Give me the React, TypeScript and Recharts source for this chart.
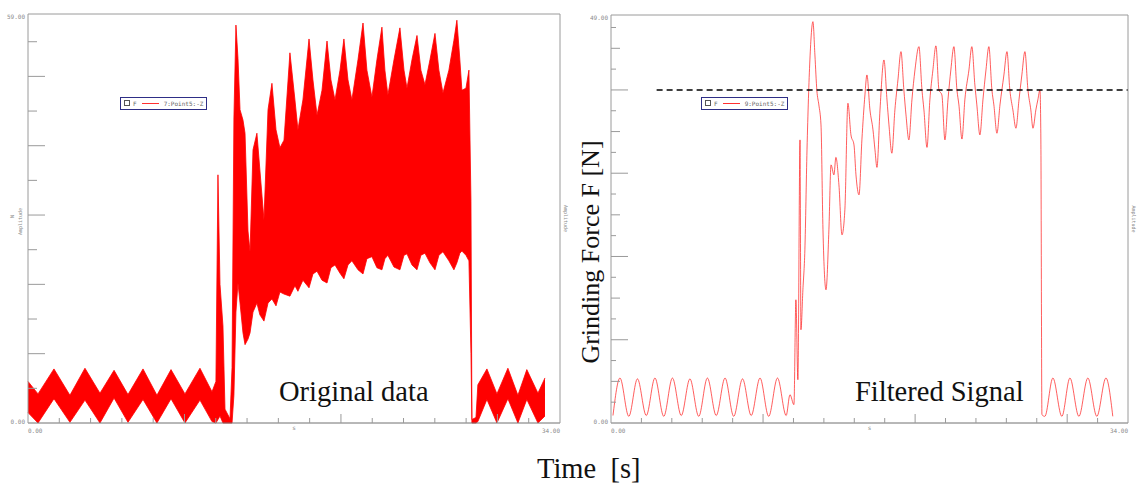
import React from "react";
import { ComposedChart, Area, Line, XAxis, YAxis, ReferenceLine, Legend } from "recharts";

const rawTime = [
  0, 0.64, 1.66, 2.68, 3.64, 4.6, 5.5, 6.39, 7.35, 8.24, 9.14, 10.03, 10.99, 11.76,
  12.01, 12.14, 12.27, 12.46, 12.59, 12.91, 13.04, 13.16, 13.29, 13.42, 13.55, 13.74, 13.87, 14.06, 14.19, 14.38,
  14.63, 14.82, 15.08, 15.34, 15.59, 15.85, 16.1, 16.36, 16.74, 17.06, 17.25, 17.57, 17.96, 18.21, 18.47, 18.79,
  19.11, 19.36, 19.62, 19.94, 20.19, 20.45, 20.7, 21.09, 21.41, 21.66, 21.98, 22.3, 22.62, 22.81, 23.0, 23.39,
  23.77, 24.03, 24.22, 24.54, 24.86, 25.11, 25.37, 25.69, 26.01, 26.26, 26.52, 26.9, 27.22, 27.41, 27.6, 27.73,
  27.99, 28.18, 28.31, 28.37, 28.63,
  28.75, 29.33, 29.97, 30.67, 31.31, 31.88, 32.59, 33.04,
];
const rawHigh = [
  6.0, 4.2, 7.8, 4.0, 7.9, 4.3, 7.6, 4.1, 7.8, 4.0, 7.7, 4.2, 7.9, 4.5,
  6.0, 35.8, 20.0, 14.0, 2.0, 0.6, 8.0, 44.0, 57.4, 52.6, 45.2, 43.7, 41.8, 27.7, 24.7, 39.4,
  41.8, 36.5, 29.3, 45.2, 49.0, 42.3, 39.7, 40.8, 53.4, 46.6, 42.3, 46.6, 55.4, 49.5, 44.4, 48.0,
  55.1, 49.5, 46.6, 50.9, 55.4, 49.5, 46.6, 52.4, 57.7, 50.9, 47.0, 52.4, 57.1, 50.9, 47.3, 52.4,
  57.0, 50.9, 48.3, 52.4, 55.9, 50.9, 48.8, 52.4, 56.2, 50.9, 47.6, 50.9, 55.2, 58.1, 52.4, 48.0,
  48.3, 50.9, 32.0, 0.5, 0.8,
  5.5, 7.8, 4.2, 7.9, 4.0, 7.7, 4.3, 6.5,
];
const rawLow = [
  1.5, 0, 3.5, 0.1, 3.3, 0, 3.6, 0.1, 3.4, 0, 3.5, 0, 3.3, 0.2,
  0, 0.5, 1, 0, 0, 0, 0, 4, 16, 20.2, 17.3, 13.0, 11.3, 12.1, 13.0, 16.0,
  17.3, 15.6, 14.7, 17.3, 17.9, 16.9, 18.9, 18.6, 18.3, 19.8, 19.0, 20.6, 19.5, 21.5, 21.9, 20.6,
  20.2, 22.4, 22.8, 21.6, 20.8, 22.8, 23.4, 22.1, 21.5, 23.7, 24.0, 22.4, 22.1, 23.7, 24.2, 22.5,
  22.1, 24.2, 24.4, 22.8, 22.1, 24.2, 24.5, 23.1, 22.1, 24.2, 24.7, 23.4, 22.1, 23.1, 24.5, 24.8,
  24.2, 23.4, 10, 0, 0,
  0.2, 3.4, 0, 3.5, 0, 3.4, 0, 1.0,
];

// right panel: filtered force
const filtTime = [
  0.13, 0.59, 1.17, 1.74, 2.32, 2.89, 3.47, 4.04, 4.62, 5.19, 5.77, 6.34, 6.92, 7.5, 8.07, 8.65, 9.22, 9.8, 10.37, 10.95, 11.52,
  11.77, 12.03, 12.16, 12.29, 12.43, 12.49, 12.62, 12.75, 12.89, 13.08, 13.28, 13.41, 13.54, 13.67, 13.81, 13.94,
  14.14, 14.33, 14.47, 14.66, 14.79, 14.99, 15.19, 15.38, 15.58, 15.78, 15.98, 16.11, 16.31, 16.5, 16.7, 16.83,
  17.03, 17.23, 17.36, 17.49, 17.69, 17.95, 18.15, 18.28, 18.47, 18.67, 18.87, 19.07, 19.26, 19.4, 19.59, 19.79,
  19.99, 20.25, 20.45, 20.58, 20.78, 20.97, 21.17, 21.37, 21.57, 21.76, 21.96, 22.16, 22.35, 22.55, 22.75, 22.88,
  23.08, 23.27, 23.54, 23.73, 23.93, 24.06, 24.26, 24.46, 24.66, 24.85, 25.05, 25.18, 25.38, 25.58, 25.84, 26.04,
  26.23, 26.43, 26.63, 26.83, 27.02, 27.22, 27.42, 27.61, 27.75, 27.94, 28.07, 28.21, 28.27, 28.34,
  28.53, 29.06, 29.65, 30.18, 30.77, 31.36, 31.95, 32.55, 33.0,
];
const filtForce = [
  0.9, 5.4, 0.8, 5.3, 0.9, 5.4, 0.8, 5.4, 0.9, 5.3, 0.8, 5.4, 0.9, 5.4, 0.8, 5.3, 0.9, 5.4, 0.8, 5.4, 0.9,
  3.4, 2.2, 14.8, 5.2, 34.0, 11.2, 16.0, 20.8, 32.8, 43.6, 48.2, 44.2, 39.9, 38.2, 35.8, 23.2,
  16.0, 23.2, 31.0, 29.8, 31.9, 28.6, 22.6, 25.6, 38.4, 34.6, 33.4, 29.8, 27.4, 34.0, 39.4, 41.8,
  37.6, 35.2, 32.8, 30.7, 37.6, 43.6, 38.8, 35.8, 32.4, 37.6, 41.2, 44.6, 40.0, 37.0, 34.0, 38.8,
  42.4, 45.2, 40.0, 37.6, 33.1, 38.8, 42.4, 45.3, 40.0, 39.4, 34.0, 38.8, 42.4, 45.2, 40.0, 38.2,
  34.1, 38.8, 42.4, 45.2, 40.6, 38.2, 34.6, 38.8, 42.4, 45.2, 40.0, 38.2, 34.8, 38.2, 41.8, 44.6,
  40.0, 37.6, 35.4, 38.8, 41.8, 44.6, 40.0, 37.6, 35.4, 37.6, 38.8, 40.0, 34.0, 1.0,
  0.8, 5.4, 0.8, 5.4, 0.8, 5.4, 0.8, 5.4, 0.8,
];

const timeMax = 34;
const rawMax = 59;
const filtMax = 49;
const threshold = 40;
const thresholdFrom = 3;

const timeTicks = [0, 2, 4, 6, 8, 10, 12, 14, 16, 18, 20, 22, 24, 26, 28, 30, 32, 34];
const rawTicks = [0, 5, 10, 15, 20, 25, 30, 35, 40, 45, 50, 55, 59];
const filtTicks = [0, 2.5, 5, 7.5, 10, 12.5, 15, 17.5, 20, 22.5, 25, 27.5, 30, 32.5, 35, 37.5, 40, 42.5, 45, 47.5, 49];
const ampTicks = [0, 0.05, 0.1, 0.15, 0.2, 0.25, 0.3, 0.35, 0.4, 0.45, 0.5, 0.55, 0.6, 0.65, 0.7, 0.75, 0.8, 0.85, 0.9, 0.95, 1];

const MONO = "DejaVu Sans Mono";
const SERIF = "Liberation Serif";
const AXIS = "#9a9a9a";
const SMALL = { fontSize: 6, fill: "#8a8a8a", fontFamily: MONO };

const rawLen = (v: number) => (v % 10 === 0 ? 17 : 9);
const filtLen = (v: number) => (v % 10 === 0 ? 17 : v % 5 === 0 ? 9 : 5);
const ampLen = (v: number) => (Math.round(v * 100) % 10 === 0 ? 17 : 9);

const YTick = ({ x, y, payload, side, top, topText, zeroText, len }: any) => {
  const v = payload.value;
  const d = side === "left" ? 1 : -1;
  if (v === 0 || v === top) {
    return (
      <text x={x - d * 3} y={v === 0 ? y + 1 : y + 5} textAnchor={side === "left" ? "end" : "start"} {...SMALL}>
        {v === 0 ? zeroText : topText}
      </text>
    );
  }
  return <line x1={x} x2={x + d * len(v)} y1={y} y2={y} stroke={AXIS} />;
};

const XTick = ({ x, y, payload }: any) => {
  const v = payload.value;
  if (v === 0) return <text x={x} y={y + 10} {...SMALL}>0.00</text>;
  if (v === timeMax) return <text x={x} y={y + 10} textAnchor="end" {...SMALL}>34.00</text>;
  return <line x1={x} x2={x} y1={y} y2={y - (v % 10 === 0 ? 9 : 5)} stroke={AXIS} />;
};

const AmpName = ({ viewBox, side, unit }: any) => {
  const { x, y, width, height } = viewBox;
  const cy = y + height / 2;
  if (side === "right") {
    const cx = x + Math.min(width / 2, 4);
    return <text x={cx} y={cy} transform={`rotate(90 ${cx} ${cy})`} textAnchor="middle" {...SMALL} fontSize={5}>Amplitude</text>;
  }
  const cx = x + width - 6;
  return (
    <g>
      <text x={cx - 8} y={cy - 2} transform={`rotate(-90 ${cx - 8} ${cy - 2})`} textAnchor="middle" {...SMALL} fontSize={5}>{unit}</text>
      <text x={cx} y={cy + 3} transform={`rotate(-90 ${cx} ${cy + 3})`} textAnchor="middle" {...SMALL} fontSize={5}>Amplitude</text>
    </g>
  );
};

const LegendBox = ({ channel }: { channel: string }) => (
  <div style={{
    display: "inline-flex", alignItems: "center", gap: 3, height: 11, padding: "0 3px",
    border: "1.5px solid #2e2e86", background: "#fff", fontFamily: MONO, fontSize: 6,
    color: "#666", whiteSpace: "nowrap", lineHeight: "11px",
  }}>
    <span style={{ width: 4, height: 4, border: "1px solid #555", display: "inline-block" }} />
    <span>F</span>
    <span style={{ width: 17, borderTop: "1px solid #ff3030", margin: "0 2px", display: "inline-block" }} />
    <span>{channel}</span>
  </div>
);

function RawPanel() {
  const data = rawTime.map((t, i) => ({ t, band: [rawLow[i], rawHigh[i]] }));
  return (
    <ComposedChart width={580} height={440} data={data} margin={{ top: 14, right: 0, bottom: 0, left: 0 }}>
      <XAxis dataKey="t" type="number" domain={[0, timeMax]} ticks={timeTicks} interval={0} height={17}
             tickSize={0} tickMargin={0} tickLine={false} axisLine={{ stroke: "#707070" }} tick={XTick}
             label={{ value: "s", position: "insideTop", offset: 3, ...SMALL }} />
      <YAxis yAxisId="f" domain={[0, rawMax]} ticks={rawTicks} interval={0} width={28}
             tickSize={0} tickMargin={0} tickLine={false} axisLine={{ stroke: AXIS }}
             tick={(p: any) => <YTick {...p} side="left" top={rawMax} topText="59.00" zeroText="0.00" len={rawLen} />}
             label={<AmpName side="left" unit="N" />} />
      <YAxis yAxisId="amp" orientation="right" domain={[0, 1]} ticks={ampTicks} interval={0} width={20}
             tickSize={0} tickMargin={0} tickLine={false} axisLine={{ stroke: AXIS }}
             tick={(p: any) => <YTick {...p} side="right" top={1} topText="1.0" zeroText="0.0" len={ampLen} />}
             label={<AmpName side="right" />} />
      <ReferenceLine yAxisId="f" y={rawMax} stroke={AXIS} />
      <Area yAxisId="f" type="linear" dataKey="band" name="F" stroke="#ff0000" strokeWidth={0.8}
            fill="#ff0000" fillOpacity={1} dot={false} activeDot={false} isAnimationActive={false} />
      <Legend layout="horizontal" verticalAlign="middle" align="center"
              wrapperStyle={{ left: 120, top: 92, width: "auto" }}
              content={() => <LegendBox channel="7:Point5:-Z" />} />
    </ComposedChart>
  );
}

function FilteredPanel() {
  const data = filtTime.map((t, i) => ({ t, f: filtForce[i] }));
  return (
    <ComposedChart width={547} height={440} data={data} margin={{ top: 15, right: 0, bottom: 0, left: 0 }}>
      <XAxis dataKey="t" type="number" domain={[0, timeMax]} ticks={timeTicks} interval={0} height={17}
             tickSize={0} tickMargin={0} tickLine={false} axisLine={{ stroke: "#707070" }} tick={XTick}
             label={{ value: "s", position: "insideTop", offset: 3, ...SMALL }} />
      <YAxis yAxisId="f" domain={[0, filtMax]} ticks={filtTicks} interval={0} width={21}
             tickSize={0} tickMargin={0} tickLine={false} axisLine={{ stroke: AXIS }}
             tick={(p: any) => <YTick {...p} side="left" top={filtMax} topText="49.00" zeroText="0.00" len={filtLen} />} />
      <YAxis yAxisId="amp" orientation="right" domain={[0, 1]} ticks={ampTicks} interval={0} width={9}
             tickSize={0} tickMargin={0} tickLine={false} axisLine={{ stroke: AXIS }}
             tick={(p: any) => <YTick {...p} side="right" top={1} topText="1.0" zeroText="0.0" len={ampLen} />}
             label={<AmpName side="right" />} />
      <ReferenceLine yAxisId="f" y={filtMax} stroke={AXIS} />
      <Line yAxisId="f" type="monotone" dataKey="f" name="F" stroke="#ff1a1a" strokeOpacity={0.7}
            strokeWidth={1} dot={false} activeDot={false} isAnimationActive={false} />
      <ReferenceLine yAxisId="f" segment={[{ x: thresholdFrom, y: threshold }, { x: timeMax, y: threshold }]}
                     stroke="#000" strokeWidth={1.4} strokeDasharray="6 4" ifOverflow="visible" />
      <Legend layout="horizontal" verticalAlign="middle" align="center"
              wrapperStyle={{ left: 111, top: 92, width: "auto" }}
              content={() => <LegendBox channel="9:Point5:-Z" />} />
    </ComposedChart>
  );
}

export default function App() {
  return (
    <div style={{ position: "absolute", left: 0, top: 0, width: 1137, height: 488, background: "#fff" }}>
      <div style={{ position: "absolute", left: 0, top: 0 }}><RawPanel /></div>
      <div style={{ position: "absolute", left: 590, top: 0 }}><FilteredPanel /></div>
      <svg width={1137} height={488} style={{ position: "absolute", left: 0, top: 0, pointerEvents: "none" }}>
        <g fontFamily={SERIF} fill="#111">
          <text x={279} y={401} fontSize={28.5}>Original data</text>
          <text x={855} y={401} fontSize={28.5}>Filtered Signal</text>
          <text x={537} y={478} fontSize={28.5} style={{ whiteSpace: "pre" }}>Time  [s]</text>
          <text x={599} y={252} fontSize={26} textAnchor="middle" transform="rotate(-90 599 252)">Grinding Force F [N]</text>
        </g>
      </svg>
    </div>
  );
}
